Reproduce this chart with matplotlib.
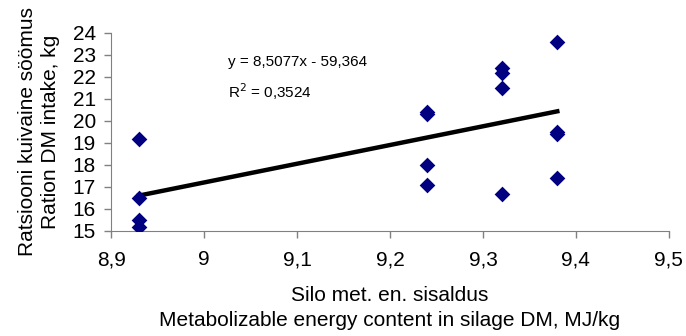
import matplotlib

matplotlib.use("Agg")
import matplotlib.pyplot as plt
import matplotlib.ticker as mticker
import numpy as np

plt.rcParams["font.family"] = ["Liberation Sans", "DejaVu Sans"]

# silage ME content (MJ/kg DM) vs ration DM intake (kg)
me = [8.93, 8.93, 8.93, 8.93,
      9.24, 9.24, 9.24, 9.24,
      9.32, 9.32, 9.32, 9.32,
      9.38, 9.38, 9.38, 9.38]
intake = [19.2, 16.5, 15.5, 15.2,
          20.4, 20.3, 18.0, 17.1,
          22.4, 22.2, 21.5, 16.7,
          23.6, 19.5, 19.4, 17.4]
slope, intercept = 8.5077, -59.364
r2 = 0.3524

comma = mticker.FuncFormatter(lambda v, p: f"{v:g}".replace(".", ","))

fig = plt.figure(figsize=(6.86, 3.36), dpi=100)
ax = fig.add_axes([0.162, 0.3125, 0.813, 0.5895])

ax.scatter(me, intake, marker="D", s=64, color="#000080", zorder=3, linewidths=0)
xl = np.array([min(me), max(me)])
ax.plot(xl, slope * xl + intercept, color="black", lw=3.2, zorder=2)

ax.set_xlim(8.9, 9.5)
ax.set_ylim(15, 24)
ax.set_xticks(np.arange(8.9, 9.51, 0.1))
ax.set_yticks(range(15, 25))
ax.xaxis.set_major_formatter(comma)
ax.tick_params(labelsize=15, color="#808080", length=5, width=1)
ax.tick_params(axis="x", pad=9)
ax.tick_params(axis="y", pad=6)
for s in ("top", "right"):
    ax.spines[s].set_visible(False)
for s in ("left", "bottom"):
    ax.spines[s].set_color("#808080")

ax.text(0.21, 0.855, "y = 8,5077x - 59,364", transform=ax.transAxes,
        fontsize=11, va="center")
ax.text(0.21, 0.705, "R$^2$ = 0,3524", transform=ax.transAxes,
        fontsize=11, va="center")

ax.set_xlabel("Silo met. en. sisaldus\nMetabolizable energy content in silage DM, MJ/kg",
              fontsize=15, labelpad=12, linespacing=1.4)
ax.set_ylabel("Ratsiooni kuivaine söömus\nRation DM intake, kg",
              fontsize=15, labelpad=9, linespacing=1.25)

fig.savefig("out.png", dpi=100)
